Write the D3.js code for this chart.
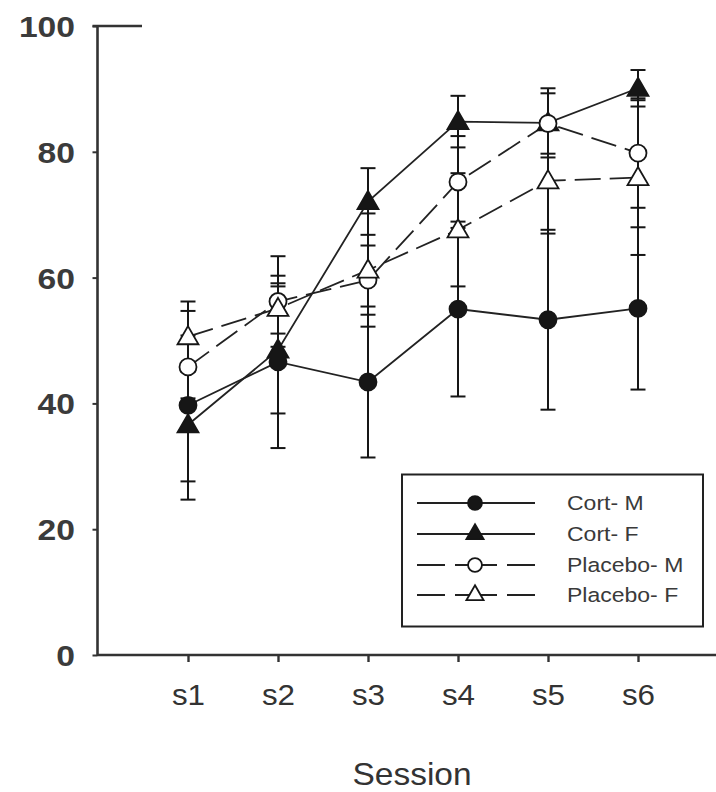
<!DOCTYPE html>
<html>
<head>
<meta charset="utf-8">
<script src="https://cdn.jsdelivr.net/npm/d3@7"></script>
<style>
  html, body { margin: 0; padding: 0; background: #fff; }
  svg { display: block; }
  text { font-family: "Liberation Sans", Arial, sans-serif; }
</style>
</head>
<body>
<svg id="chart" width="716" height="792"></svg>
<script>
// Sessions on the x axis
const sessions = ["s1", "s2", "s3", "s4", "s5", "s6"];
const yTicks = [0, 20, 40, 60, 80, 100];

// Group means and error bar half-widths per session
const cortM = [39.7, 46.6, 43.4, 55.0, 53.3, 55.1];
const cortMErr = [15.0, 13.7, 12.0, 13.9, 14.3, 12.9];
const cortF = [36.6, 48.5, 72.1, 84.8, 84.6, 90.1];
const cortFErr = [9.0, 10.1, 5.3, 4.1, 5.5, 2.9];
const placeboM = [45.8, 56.2, 59.6, 75.2, 84.5, 79.8];
const placeboMErr = [5.0, 7.2, 5.5, 7.3, 4.8, 8.7];
const placeboF = [50.6, 55.1, 61.2, 67.6, 75.4, 75.9];
const placeboFErr = [5.6, 4.0, 9.0, 9.0, 8.4, 12.3];

const seriesNames = ["Cort- M", "Cort- F", "Placebo- M", "Placebo- F"];

const series = [
  { name: seriesNames[0], values: cortM, err: cortMErr, shape: "circle", filled: true, dashed: false },
  { name: seriesNames[1], values: cortF, err: cortFErr, shape: "triangle", filled: true, dashed: false },
  { name: seriesNames[2], values: placeboM, err: placeboMErr, shape: "circle", filled: false, dashed: true },
  { name: seriesNames[3], values: placeboF, err: placeboFErr, shape: "triangle", filled: false, dashed: true }
];

const svg = d3.select("#chart");
const ink = "#161616";

const x = d3.scalePoint().domain(sessions).range([188, 638]);
const y = d3.scaleLinear().domain([0, 100]).range([655, 26]);

const axisLeftX = 97.5;

// Y axis (labels slightly widened)
const yStretch = 1.16;
const yAxis = svg.append("g").attr("transform", `translate(${axisLeftX},0)`)
  .call(d3.axisLeft(y).tickValues(yTicks).tickSize(5).tickFormat(d3.format("d")));
yAxis.select(".domain").remove();
yAxis.selectAll(".tick line").attr("stroke", "#333").attr("stroke-width", 2);
yAxis.selectAll(".tick text")
  .attr("x", -22.5 / yStretch)
  .attr("transform", `scale(${yStretch},1)`)
  .attr("fill", "#3b3b3b").style("font-size", "29px").style("font-weight", "bold")
  .attr("dy", "0.36em");
svg.append("line")
  .attr("x1", axisLeftX).attr("x2", axisLeftX)
  .attr("y1", y(100) - 1).attr("y2", y(0) + 1)
  .attr("stroke", "#333").attr("stroke-width", 2.6);
// short cap at the top of the y axis
svg.append("line")
  .attr("x1", axisLeftX - 5).attr("x2", 142)
  .attr("y1", y(100)).attr("y2", y(100))
  .attr("stroke", "#333").attr("stroke-width", 2.4);

// X axis
const xAxis = svg.append("g").attr("transform", `translate(0,${y(0)})`)
  .call(d3.axisBottom(x).tickSize(7).tickPadding(22));
xAxis.select(".domain").remove();
xAxis.selectAll(".tick line").attr("stroke", "#333").attr("stroke-width", 2.4);
xAxis.selectAll(".tick text")
  .attr("fill", "#333").style("font-size", "29px").attr("dy", "0.71em")
  .attr("transform", "scale(1.08,1)");
svg.append("line")
  .attr("x1", axisLeftX).attr("x2", 716)
  .attr("y1", y(0)).attr("y2", y(0))
  .attr("stroke", "#333").attr("stroke-width", 2.6);

svg.append("text")
  .attr("transform", "translate(412,785) scale(1.08,1)")
  .attr("text-anchor", "middle")
  .attr("fill", "#333").style("font-size", "31px")
  .text("Session");

// Symbol generators
const tri = d3.symbol().type(d3.symbolTriangle);
function drawSymbol(g, s, cx, cy, scale) {
  const k = scale || 1;
  if (s.shape === "circle") {
    g.append("circle").attr("cx", cx).attr("cy", cy).attr("r", 8.5 * k)
      .attr("fill", s.filled ? ink : "#fff")
      .attr("stroke", ink).attr("stroke-width", 1.8);
  } else {
    g.append("path").attr("d", tri.size(190 * k * k)())
      .attr("transform", `translate(${cx},${cy + 1.5 * k})`)
      .attr("fill", s.filled ? ink : "#fff")
      .attr("stroke", ink).attr("stroke-width", 1.8);
  }
}

const plot = svg.append("g");

// Error bars
const capHalf = 7.5;
series.forEach(s => {
  const g = plot.append("g");
  sessions.forEach((sess, i) => {
    const cx = x(sess);
    const lo = y(s.values[i] - s.err[i]);
    const hi = y(s.values[i] + s.err[i]);
    g.append("line").attr("x1", cx).attr("x2", cx).attr("y1", lo).attr("y2", hi)
      .attr("stroke", ink).attr("stroke-width", 2);
    [lo, hi].forEach(yy => {
      g.append("line").attr("x1", cx - capHalf).attr("x2", cx + capHalf)
        .attr("y1", yy).attr("y2", yy)
        .attr("stroke", ink).attr("stroke-width", 2);
    });
  });
});

// Connecting lines
const line = d3.line().x((d, i) => x(sessions[i])).y(d => y(d));
series.forEach(s => {
  plot.append("path")
    .attr("d", line(s.values))
    .attr("fill", "none")
    .attr("stroke", "#222")
    .attr("stroke-width", 1.8)
    .attr("stroke-dasharray", s.dashed ? "26,9" : null);
});

// Markers
series.forEach(s => {
  const g = plot.append("g");
  sessions.forEach((sess, i) => drawSymbol(g, s, x(sess), y(s.values[i])));
});

// Legend
const legend = svg.append("g");
legend.append("rect")
  .attr("x", 402).attr("y", 474.5).attr("width", 301).attr("height", 152)
  .attr("fill", "#fff").attr("stroke", "#222").attr("stroke-width", 2);
const rowY = [503, 534, 565, 595];
series.forEach((s, i) => {
  const ry = rowY[i];
  legend.append("line")
    .attr("x1", 417).attr("x2", 535).attr("y1", ry).attr("y2", ry)
    .attr("stroke", "#222").attr("stroke-width", 1.8)
    .attr("stroke-dasharray", s.dashed ? "28,10,42,10,28" : null);
  drawSymbol(legend, s, 475, ry - (s.shape === "triangle" ? 1 : 0), 0.82);
  legend.append("text")
    .attr("transform", `translate(567,${ry}) scale(1.18,1)`)
    .attr("dy", "0.36em")
    .attr("fill", "#3a3a3a").style("font-size", "19.5px")
    .text(s.name);
});
</script>
</body>
</html>
